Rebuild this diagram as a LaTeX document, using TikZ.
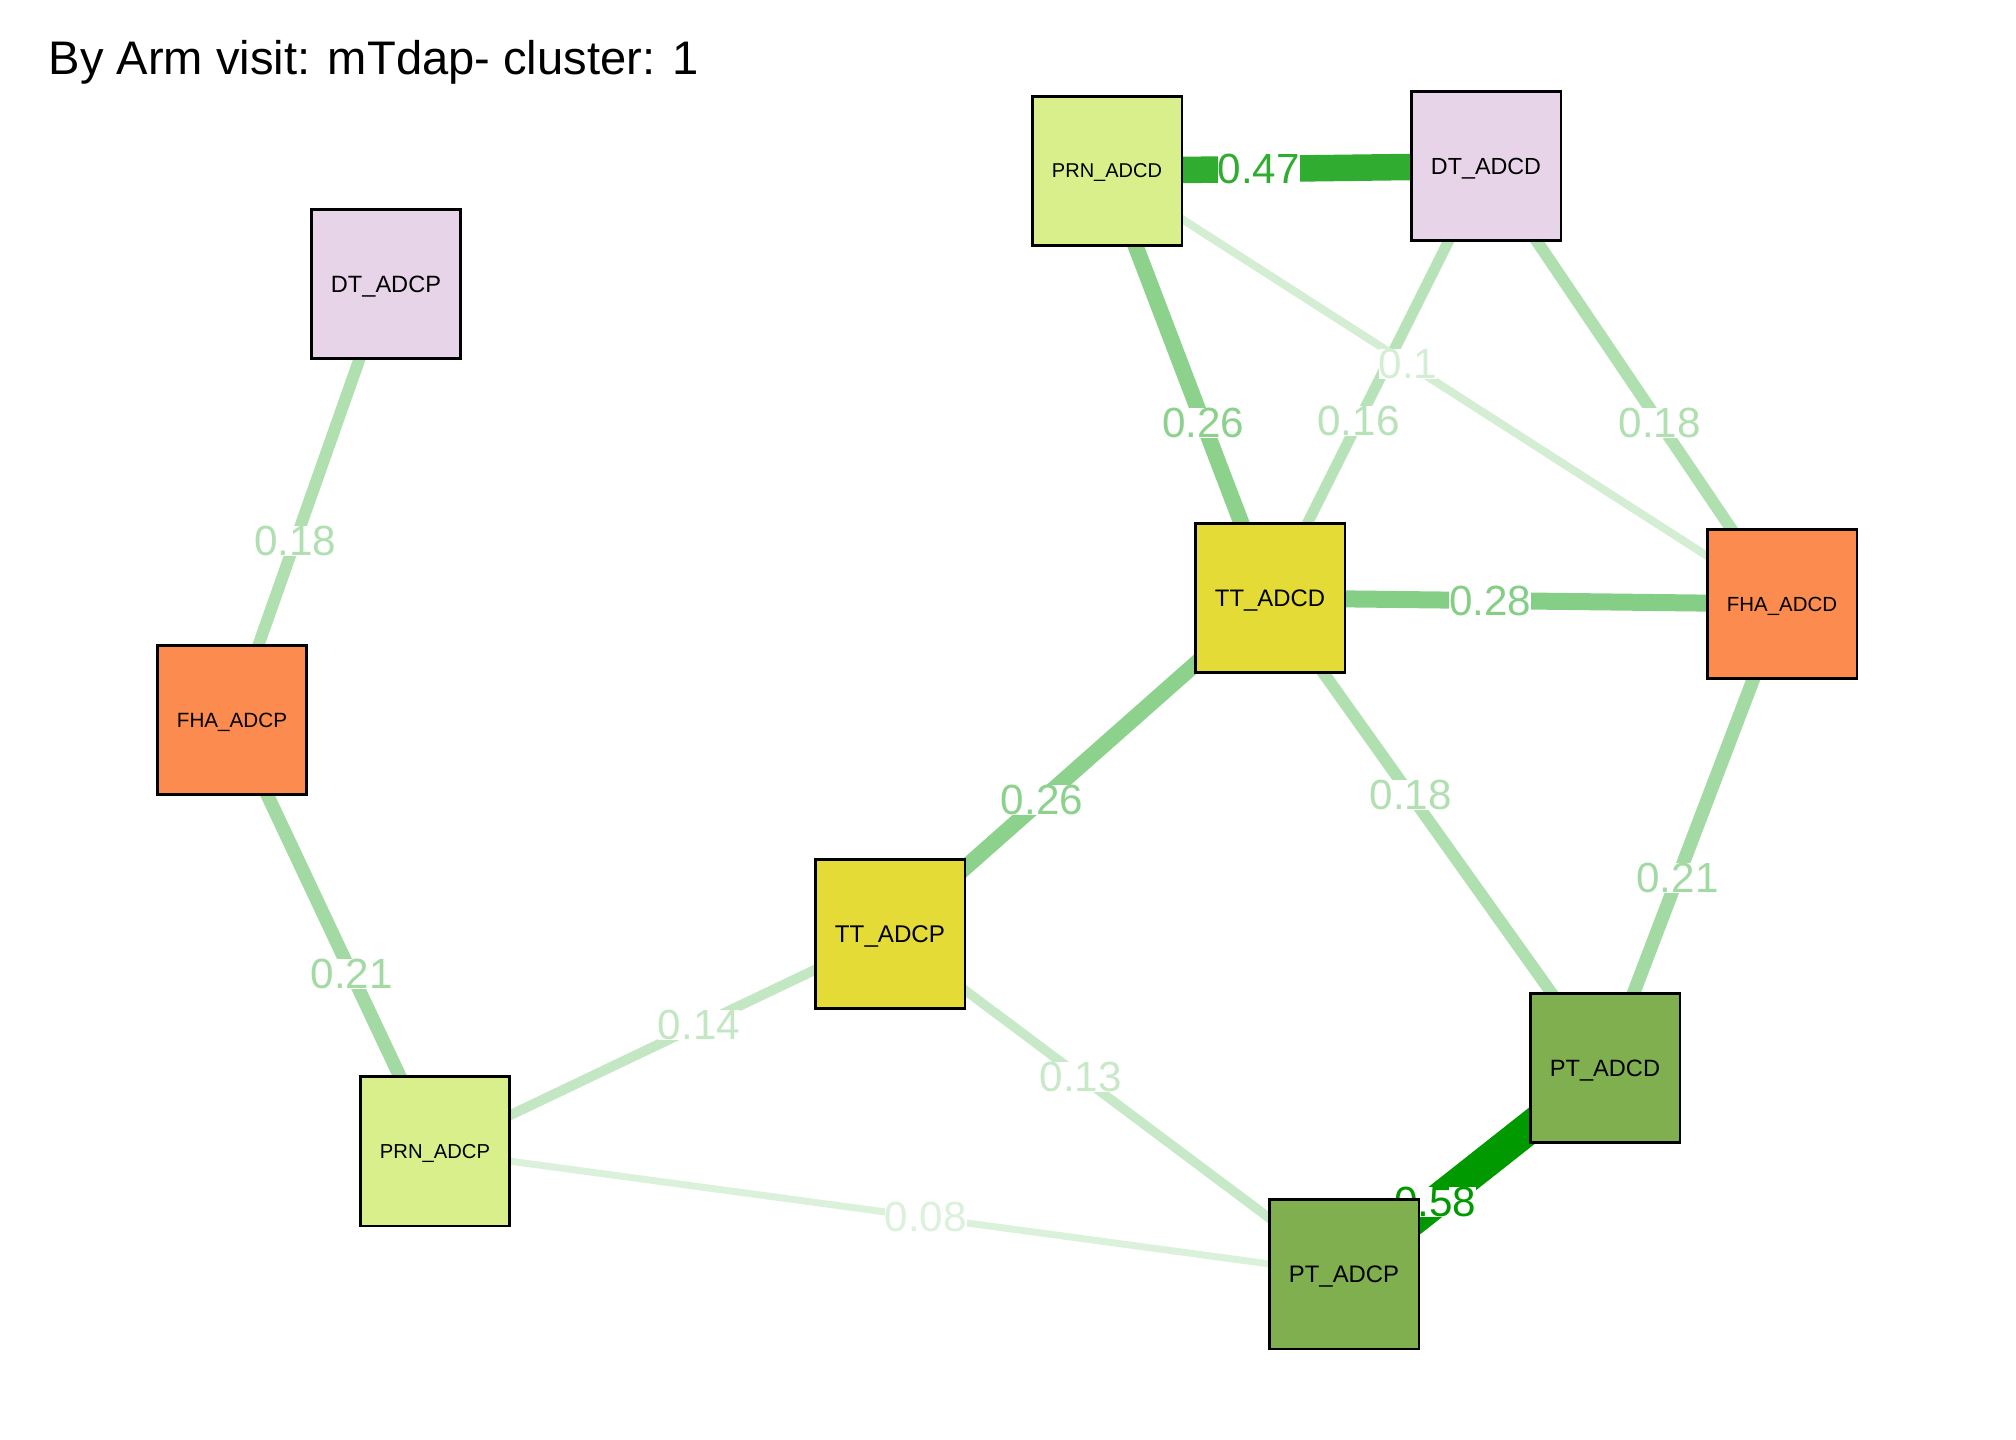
\documentclass[tikz,border=0pt]{standalone}
\usepackage{fontspec}
\setmainfont{Liberation Sans}
\usepackage{xcolor}
\usetikzlibrary{backgrounds}

\definecolor{linkgreen}{RGB}{0,153,0}
\definecolor{prncol}{RGB}{217,239,139}
\definecolor{dtcol}{RGB}{231,212,232}
\definecolor{fhacol}{RGB}{252,139,80}
\definecolor{ttcol}{RGB}{229,219,55}
\definecolor{ptcol}{RGB}{127,175,79}
\newcommand{\fitlbl}[1]{\resizebox{1.1cm}{!}{\raisebox{0pt}[\height][0pt]{#1}}}

\begin{document}
\begin{tikzpicture}[x=0.01cm,y=-0.01cm]
  \useasboundingbox (0,0) rectangle (2016,1440);
  \tikzstyle{box}=[draw, line width=0.6pt, minimum size=1.49cm, inner sep=0pt]
  \tikzset{link/.style 2 args={line width={(3+50*#1)*0.01cm}, draw=linkgreen!#2!white},
    lbl/.style={fill=white, inner sep=0pt, text=linkgreen!#1!white, font=\fontsize{12}{12}\selectfont}}
  \node[anchor=base west, inner sep=0pt, font=\fontsize{13.4}{16}\selectfont] (title) at (48,75) {By Arm visit: mTdap- cluster: 1};
  % ADCP side
  \node[box, fill=dtcol] (dtp) at (386,284) {\fitlbl{DT\_ADCP}};
  \node[box, fill=fhacol] (fhap) at (232,720) {\fitlbl{FHA\_ADCP}};
  \node[box, fill=prncol] (prnp) at (435,1151) {\fitlbl{PRN\_ADCP}};
  \node[box, fill=ttcol] (ttp) at (890,934) {\fitlbl{TT\_ADCP}};
  \node[box, fill=ptcol] (ptp) at (1344,1274) {\fitlbl{PT\_ADCP}};
  % ADCD side
  \node[box, fill=ptcol] (ptd) at (1605,1068) {\fitlbl{PT\_ADCD}};
  \node[box, fill=ttcol] (ttd) at (1270,598) {\fitlbl{TT\_ADCD}};
  \node[box, fill=fhacol] (fhad) at (1782,604) {\fitlbl{FHA\_ADCD}};
  \node[box, fill=prncol] (prnd) at (1107,171) {\fitlbl{PRN\_ADCD}};
  \node[box, fill=dtcol] (dtd) at (1486,166) {\fitlbl{DT\_ADCD}};
  \begin{pgfonlayer}{background}
    \draw[link={0.18}{31}] (dtp.center) -- node[lbl=31, pos=0.59] {0.18} (fhap.center);
    \draw[link={0.21}{36}] (fhap.center) -- node[lbl=36, pos=0.59] {0.21} (prnp.center);
    \draw[link={0.14}{24}] (prnp.center) -- node[lbl=24, pos=0.58] {0.14} (ttp.center);
    \draw[link={0.08}{14}] (prnp.center) -- node[lbl=14, pos=0.54] {0.08} (ptp.center);
    \draw[link={0.13}{22}] (ttp.center) -- node[lbl=22, pos=0.42] {0.13} (ptp.center);
    \draw[link={0.26}{45}] (ttp.center) -- node[lbl=45, pos=0.40] {0.26} (ttd.center);
    \draw[link={0.18}{31}] (ttd.center) -- node[lbl=31, pos=0.42] {0.18} (ptd.center);
    \draw[link={0.58}{100}] (ptp.center) -- node[lbl=100, pos=0.35] {0.58} (ptd.center);
    \draw[link={0.21}{36}] (fhad.center) -- node[lbl=36, pos=0.59] {0.21} (ptd.center);
    \draw[link={0.28}{48}] (ttd.center) -- node[lbl=48, pos=0.43] {0.28} (fhad.center);
    \draw[link={0.26}{45}] (prnd.center) -- node[lbl=45, pos=0.59] {0.26} (ttd.center);
    \draw[link={0.16}{28}] (dtd.center) -- node[lbl=28, pos=0.59] {0.16} (ttd.center);
    \draw[link={0.1}{17}] (prnd.center) -- node[lbl=17, pos=0.446] {0.1} (fhad.center);
    \draw[link={0.18}{31}] (dtd.center) -- node[lbl=31, pos=0.587] {0.18} (fhad.center);
    \draw[link={0.47}{81}] (prnd.center) -- node[lbl=81, pos=0.40] {0.47} (dtd.center);
  \end{pgfonlayer}
\end{tikzpicture}
\end{document}
